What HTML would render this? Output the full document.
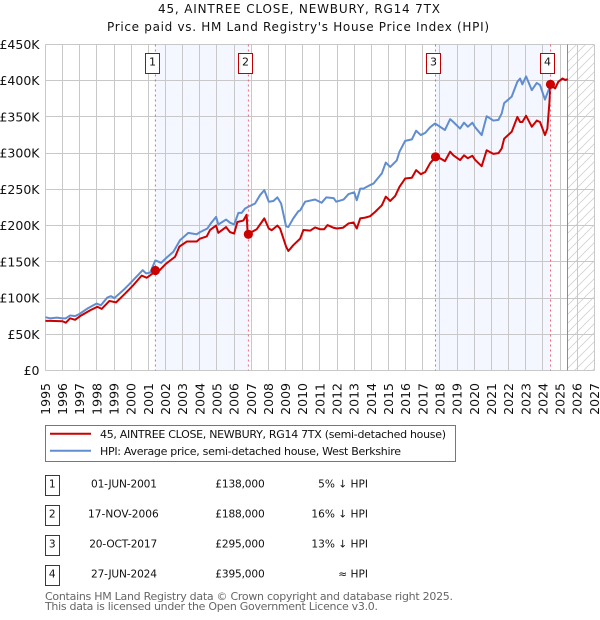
<!DOCTYPE html>
<html lang="en">
<head>
<meta charset="utf-8">
<title>45, AINTREE CLOSE price paid vs HPI</title>
<style>
html,body{margin:0;padding:0;background:#fff;width:600px;height:620px;overflow:hidden}
svg{display:block}
text{font-family:"DejaVu Sans","Liberation Sans",sans-serif;fill:#111}
.t{font-size:12px}
.tick{font-size:12.5px}
.leg{font-size:11px}
.foot{font-size:11px;fill:#666}
</style>
</head>
<body>
<svg id="chart" xmlns="http://www.w3.org/2000/svg" width="600" height="620" viewBox="0 0 600 620">
<defs>
<pattern id="hatch" patternUnits="userSpaceOnUse" width="9" height="9">
<path d="M-1 10L10 -1M-1 1L1 -1M8 10L10 8" stroke="#d2d2d2" stroke-width="0.8" fill="none"/>
</pattern>
</defs>
<rect width="600" height="620" fill="#fff"/>
<text class="t" x="299" y="13" text-anchor="middle" textLength="282">45, AINTREE CLOSE, NEWBURY, RG14 7TX</text>
<text class="t" x="298" y="31" text-anchor="middle" textLength="382">Price paid vs. HM Land Registry's House Price Index (HPI)</text>
<g id="bands"></g>
<g id="grid"></g>
<g id="yticks"></g>
<g id="xticks"></g>
<g id="series"></g>
<g id="sales"></g>

<g>
<rect x="45.5" y="425.5" width="410" height="36" fill="#fff" stroke="#777" stroke-width="1"/>
<line x1="50" x2="91" y1="433.7" y2="433.7" stroke="#cc0000" stroke-width="2"/>
<line x1="50" x2="91" y1="450.7" y2="450.7" stroke="#608dcf" stroke-width="2"/>
<text class="leg" x="100" y="438" textLength="346">45, AINTREE CLOSE, NEWBURY, RG14 7TX (semi-detached house)</text>
<text class="leg" x="100" y="455" textLength="301">HPI: Average price, semi-detached house, West Berkshire</text>
</g>

<g>
<g>
<rect x="45.5" y="475.5" width="14" height="20" fill="#fff" stroke="#c00000" stroke-width="1"/>
<text x="52.3" y="487.3" font-size="10.6" text-anchor="middle">1</text>
<text x="124" y="487.3" font-size="10.6" text-anchor="middle" textLength="66">01-JUN-2001</text>
<text x="264.7" y="487.3" font-size="10.6" text-anchor="end" textLength="49.4">£138,000</text>
<text x="368" y="487.3" font-size="10.6" text-anchor="end">5% ↓ HPI</text>
</g>
<g>
<rect x="45.5" y="505.5" width="14" height="20" fill="#fff" stroke="#c00000" stroke-width="1"/>
<text x="52.3" y="517.3" font-size="10.6" text-anchor="middle">2</text>
<text x="123.4" y="517.3" font-size="10.6" text-anchor="middle" textLength="70.7">17-NOV-2006</text>
<text x="264.7" y="517.3" font-size="10.6" text-anchor="end" textLength="49.4">£188,000</text>
<text x="368" y="517.3" font-size="10.6" text-anchor="end">16% ↓ HPI</text>
</g>
<g>
<rect x="45.5" y="535.5" width="14" height="20" fill="#fff" stroke="#c00000" stroke-width="1"/>
<text x="52.3" y="547.3" font-size="10.6" text-anchor="middle">3</text>
<text x="123.2" y="547.3" font-size="10.6" text-anchor="middle" textLength="68">20-OCT-2017</text>
<text x="264.7" y="547.3" font-size="10.6" text-anchor="end" textLength="49.4">£295,000</text>
<text x="368" y="547.3" font-size="10.6" text-anchor="end">13% ↓ HPI</text>
</g>
<g>
<rect x="45.5" y="565.5" width="14" height="20" fill="#fff" stroke="#c00000" stroke-width="1"/>
<text x="52.3" y="577.3" font-size="10.6" text-anchor="middle">4</text>
<text x="124" y="577.3" font-size="10.6" text-anchor="middle" textLength="66">27-JUN-2024</text>
<text x="264.7" y="577.3" font-size="10.6" text-anchor="end" textLength="49.4">£395,000</text>
<text x="368" y="577.3" font-size="10.6" text-anchor="end">≈ HPI</text>
</g>
</g>

<text class="foot" x="45" y="600" textLength="408">Contains HM Land Registry data © Crown copyright and database right 2025.</text>
<text class="foot" x="45" y="610" textLength="333">This data is licensed under the Open Government Licence v3.0.</text>
</svg>

<script>
const yearTicks = [1995,1996,1997,1998,1999,2000,2001,2002,2003,2004,2005,2006,2007,2008,2009,2010,2011,2012,2013,2014,2015,2016,2017,2018,2019,2020,2021,2022,2023,2024,2025,2026,2027];
const valueTicks = [0,50,100,150,200,250,300,350,400,450];
const valueTickLabels = ['£0','£50K','£100K','£150K','£200K','£250K','£300K','£350K','£400K','£450K'];
const hpiYears = [1995.0,1995.27,1995.66,1996.0,1996.19,1996.44,1996.73,1996.98,1997.45,1997.99,1998.23,1998.61,1998.81,1999.02,1999.59,2000.01,2000.67,2000.87,2001.1,2001.41,2001.74,2002.01,2002.46,2002.85,2003.33,2003.82,2004.01,2004.44,2004.64,2004.95,2005.08,2005.53,2005.76,2006.0,2006.25,2006.44,2006.64,2006.83,2007.22,2007.51,2007.76,2008.02,2008.29,2008.52,2008.74,2009.03,2009.16,2009.45,2009.75,2009.85,2010.14,2010.72,2011.1,2011.37,2011.8,2011.95,2012.38,2012.67,2013.0,2013.15,2013.35,2013.54,2013.93,2014.12,2014.61,2014.84,2015.1,2015.48,2015.64,2015.97,2016.36,2016.61,2016.88,2017.14,2017.42,2017.71,2018.29,2018.59,2018.78,2019.17,2019.4,2019.62,2019.89,2020.04,2020.43,2020.72,2021.11,2021.41,2021.6,2021.74,2022.18,2022.51,2022.67,2022.8,2023.02,2023.35,2023.64,2023.83,2024.12,2024.44,2024.71,2024.9,2025.14,2025.3,2025.45];
const hpiValues = [73.6,72,73,72,72,76,75,78,85.5,92.5,90,100.7,102.6,100,112,122,138.5,134,135,152,148.6,154.6,164,180,190,188,191,196,203,212,201.5,208.4,204,201.5,217.6,217.6,223.6,226,230.5,242,249,233,234,239,230.5,199,198,210,220,221,233,236,231.5,239,238,233,236,243.5,246,235,251,251,256,258,272,287,281,290,302,317,319,331,325,328,335.6,341,332,347,343,334,342,336.5,342,336,325,351,345,346,355,369,378,398.6,403,395,406,387,397,394,374,394,389.4,398.6,403,401,402];
const priceYears = [1995.0,1995.3,1996.0,1996.19,1996.44,1996.73,1997.02,1997.6,1998.03,1998.28,1998.73,1999.12,1999.64,2000.13,2000.61,2000.9,2001.2,2001.41,2001.64,2002.01,2002.56,2002.81,2003.24,2003.82,2004.01,2004.4,2004.6,2004.95,2005.08,2005.53,2005.76,2006.0,2006.19,2006.54,2006.73,2006.79,2006.83,2006.93,2007.32,2007.76,2008.02,2008.19,2008.52,2008.68,2009.03,2009.16,2009.45,2009.85,2010.04,2010.43,2010.72,2011.0,2011.25,2011.44,2011.8,2011.99,2012.34,2012.67,2012.96,2013.15,2013.35,2013.64,2013.93,2014.22,2014.61,2014.84,2015.1,2015.39,2015.64,2015.97,2016.36,2016.61,2016.88,2017.14,2017.42,2017.74,2018.0,2018.29,2018.59,2018.78,2019.17,2019.4,2019.62,2019.89,2020.04,2020.43,2020.72,2021.11,2021.41,2021.6,2021.74,2022.18,2022.51,2022.67,2022.8,2023.02,2023.35,2023.64,2023.83,2024.12,2024.26,2024.38,2024.44,2024.71,2024.9,2025.14,2025.3,2025.45];
const priceValues = [68.5,68.5,68,66,72,70,75,83,88,85,96,94,106,118,131,128,133,138,138,147,157,171,178,178,182,185,194,200,190,198,191,189,205,207,215,189,188,190,195,210,196,193.6,200,196,171,165,173,182,194,193,197.5,195,195,200.7,197,196,197,203,204.4,196,210,211,213,219,228,240,234,241,253.6,265,266,276.6,271,274,286,295,293,289,302,297,290.5,297,293,296.4,291,282,304,299,300,306.6,320,329.5,350,343,343,351.6,336.5,345,343,325,334,370,395,389.4,398.6,403,401,402];
const saleYears = [2001.41,2006.83,2017.74,2024.44];
const salePrices = [138,188,295,395];
const saleLabels = ['1','2','3','4'];
const nowYear = 2025.41;

const X0 = 45.4, XPY = 17.156, Y0 = 370.5, YPK = 326 / 450;
function xScale(year) { return X0 + (year - 1995) * XPY; }
function yScale(value) { return Y0 - value * YPK; }
const NS = 'http://www.w3.org/2000/svg';
function make(tag, attrs, parent) {
  const el = document.createElementNS(NS, tag);
  for (const k in attrs) el.setAttribute(k, attrs[k]);
  parent.appendChild(el);
  return el;
}
function snap(v) { return Math.round(v - 0.5) + 0.5; }

const bandsG = document.getElementById('bands');
for (let i = 0; i < saleYears.length; i += 2) {
  const band = make('rect', {x: xScale(saleYears[i]), y: yScale(450), width: xScale(saleYears[i + 1]) - xScale(saleYears[i]), height: Y0 - yScale(450), fill: '#f4f7ff'}, bandsG);
  
  
}
const future = make('rect', {x: xScale(nowYear), y: yScale(450), width: xScale(2027) - xScale(nowYear), height: Y0 - yScale(450), fill: 'url(#hatch)'}, bandsG);



const gridG = document.getElementById('grid');
yearTicks.forEach(function (yr) {
  const px = snap(xScale(yr));
  const gl = make('line', {x1: px, x2: px, y1: yScale(450), y2: Y0, stroke: '#c8c8c8', 'stroke-width': 1}, gridG);
  
  
});
valueTicks.forEach(function (v) {
  const py = snap(yScale(v));
  const gl = make('line', {x1: xScale(1995), x2: xScale(2027), y1: py, y2: py, stroke: '#c8c8c8', 'stroke-width': 1}, gridG);
  
  
});
const nowLine = make('line', {x1: snap(xScale(nowYear)), x2: snap(xScale(nowYear)), y1: yScale(450), y2: Y0, stroke: '#8c8c8c', 'stroke-width': 1}, gridG);



const yG = document.getElementById('yticks');
valueTicks.forEach(function (v, i) {
  const t = make('text', {x: 39.5, y: yScale(v) + 4.5, 'text-anchor': 'end', class: 'tick'}, yG);
  t.textContent = valueTickLabels[i];
  
  
});
const xG = document.getElementById('xticks');
yearTicks.forEach(function (yr) {
  const px = xScale(yr) + 4.5;
  const t = make('text', {x: px, y: 383, 'text-anchor': 'end', class: 'tick', transform: 'rotate(-90 ' + px + ' 383)'}, xG);
  t.textContent = String(yr);
  
  
});

function pathFrom(xs, ys) {
  return xs.map(function (yr, i) { return (i ? 'L' : 'M') + xScale(yr).toFixed(2) + ' ' + yScale(ys[i]).toFixed(2); }).join('');
}
const seriesG = document.getElementById('series');
const hpiLine = make('path', {d: pathFrom(hpiYears, hpiValues), fill: 'none', stroke: '#608dcf', 'stroke-width': 2, 'stroke-linejoin': 'round'}, seriesG);


const priceLine = make('path', {d: pathFrom(priceYears, priceValues), fill: 'none', stroke: '#cc0000', 'stroke-width': 2, 'stroke-linejoin': 'round'}, seriesG);



const salesG = document.getElementById('sales');
saleYears.forEach(function (yr, i) {
  const px = xScale(yr);
  const dash = make('line', {x1: px, x2: px, y1: yScale(450), y2: Y0, stroke: '#f0556a', 'stroke-width': 0.9, 'stroke-dasharray': '2 3'}, salesG);
  
  
  const dot = make('circle', {cx: px, cy: yScale(salePrices[i]), r: 4.6, fill: '#cc0000'}, salesG);
  
  
  const bx = Math.round(px - 10) + 0.5;
  const box = make('rect', {x: bx, y: 53.5, width: 14, height: 20, fill: '#fff', stroke: '#c00000', 'stroke-width': 1}, salesG);
  
  
  const lab = make('text', {x: bx + 7, y: 65.3, 'text-anchor': 'middle', 'font-size': 11}, salesG);
  lab.textContent = saleLabels[i];
  
  
});
</script>
</body>
</html>
